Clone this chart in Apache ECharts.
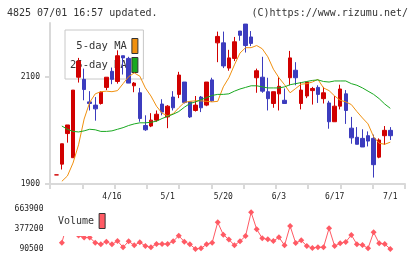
<!DOCTYPE html>
<html>
<head>
<meta charset="utf-8">
<script src="https://cdn.jsdelivr.net/npm/echarts@6/dist/echarts.min.js"></script>
<style>
html, body { margin: 0; padding: 0; background: #fff; }
#chartBox { width: 420px; height: 259px; }
</style>
</head>
<body>
<div id="chartBox"></div>
<script>
// x labels sit on trading-day index
const tickIdx = [10, 20, 30, 40, 50, 60];
const tickLabels = ["4/16", "5/1", "5/20", "6/3", "6/17", "7/1"];
const priceTicks = [1900, 2100];
const volTicks = [90500, 377200, 663900];

const opens  = [1917,1937,1994,1949,2099,2095,2053,2047,2050,2080,2110,2091,2139,2134,2083,2070,2009,2008,2019,2049,2025,2062,2067,2090,2053,2037,2062,2047,2094,2163,2163,2116,2134,2185,2198,2174,2098,2099,2072,2050,2068,2056,2098,2112,2050,2064,2074,2080,2059,2051,2016,2045,2068,2004,1987,1985,1990,1985,1950,1990,2000];
const closes = [1917,1975,2010,2075,2129,2076,2050,2040,2071,2099,2095,2139,2135,2088,2088,2022,2001,2019,2030,2034,2045,2042,2103,2052,2025,2047,2042,2090,2055,2175,2120,2135,2165,2177,2158,2162,2111,2073,2059,2072,2082,2050,2135,2098,2075,2090,2078,2067,2070,2016,2045,2077,2037,1986,1974,1969,1980,1936,1982,2000,1990];
const lows   = [1917,1927,1977,1949,2089,2056,2037,2018,2048,2075,2086,2087,2104,2088,2071,2016,1999,2006,2016,2028,2004,2037,2060,2050,2023,2035,2034,2045,2053,2127,2116,2111,2129,2167,2145,2157,2070,2070,2037,2042,2037,2050,2084,2084,2039,2060,2048,2051,2050,2003,2016,2039,2012,1975,1974,1969,1970,1912,1948,1973,1982];
const highs  = [1917,1975,2010,2075,2135,2115,2073,2062,2073,2099,2117,2149,2139,2137,2090,2079,2028,2032,2037,2058,2047,2073,2109,2090,2053,2064,2064,2090,2098,2184,2184,2150,2174,2185,2198,2185,2115,2137,2098,2072,2099,2078,2148,2127,2090,2090,2081,2084,2081,2055,2064,2085,2075,2025,2006,2002,1998,1992,1985,2008,2006];

const ma5  = [null,1905,1915,1939,1973,2021,2052,2068,2072,2073,2072,2074,2087,2100,2107,2101,2079,2064,2045,2032,2027,2031,2042,2052,2054,2055,2055,2054,2053,2054,2081,2098,2122,2144,2154,2154,2158,2152,2137,2114,2098,2085,2070,2078,2086,2087,2090,2095,2079,2074,2064,2056,2053,2048,2035,2023,2012,1988,1976,1974,1978];
const ma25 = [null,2008,2002,1998,1997,1999,2002,2001,1998,1998,1999,2002,2005,2009,2012,2014,2014,2015,2017,2022,2026,2030,2035,2043,2050,2053,2057,2061,2065,2067,2067,2068,2073,2077,2080,2083,2083,2081,2079,2079,2079,2081,2085,2087,2089,2091,2093,2094,2091,2090,2092,2092,2092,2087,2084,2079,2073,2067,2059,2049,2041];
const volume = [null,181000,463000,520000,284000,255000,255000,181000,158000,195000,158000,205000,115000,201000,143500,186500,133500,115000,162000,162000,162000,201000,281000,195000,158000,90500,100500,158000,181000,473000,295500,226700,143500,201000,277000,616600,373000,244000,229500,205000,258000,143500,420000,176500,215000,133500,105000,115000,115000,387000,133500,172000,191000,291000,158000,148000,100500,330000,172000,162000,90500];

const mono = "DejaVu Sans Mono";
const axisGray = "#d9d9d9";
const xMin = -1.13, xMax = 62.64;

const candleData = opens.map((o, i) => [i, o, closes[i], lows[i], highs[i]]);
const pairs = arr => arr.map((v, i) => [i, v]).filter(p => p[1] !== null);

const chartFun = () => {
  const myChart = echarts.init(document.getElementById("chartBox"));
  const option = {
    animation: false,
    title: [
      {
        text: "4825 07/01 16:57 updated.",
        left: 7, top: 8, padding: 0,
        textStyle: { fontFamily: mono, fontSize: 10, fontWeight: "normal", color: "#333" },
      },
      {
        text: "(C)https://www.rizumu.net/",
        right: 12, top: 8, padding: 0,
        textStyle: { fontFamily: mono, fontSize: 10, fontWeight: "normal", color: "#333" },
      },
    ],
    legend: [
      {
        data: ["5-day MA", "25-day MA"],
        orient: "vertical",
        left: 65, top: 30, z: 1,
        icon: "rect", itemWidth: 6, itemHeight: 15, itemGap: 3,
        align: "right",
        selectedMode: false,
        backgroundColor: "#fff",
        borderColor: "#c8c8c8", borderWidth: 1,
        padding: [8, 5, 6, 5],
        formatter: name => name.padStart(9),
        itemStyle: { borderColor: "#333", borderWidth: 1 },
        textStyle: { fontFamily: mono, fontSize: 10.5, color: "#333" },
      },
      {
        data: ["Volume"],
        left: 52, top: 204, z: 10,
        icon: "rect", itemWidth: 6, itemHeight: 15,
        align: "right",
        selectedMode: false,
        backgroundColor: "#fff",
        borderWidth: 0,
        padding: [9, 6, 7, 6],
        itemStyle: { borderColor: "#333", borderWidth: 1 },
        textStyle: { fontFamily: mono, fontSize: 10, color: "#333" },
      },
    ],
    grid: [
      { left: 50, right: 15, top: 23, bottom: 75 },
      { left: 50, right: 15, top: 209, bottom: 10 },
    ],
    xAxis: [
      {
        gridIndex: 0, type: "value", position: "bottom",
        min: 0, max: 11, interval: 1,
        axisLine: { lineStyle: { color: axisGray, width: 2 } },
        axisTick: { length: 5, lineStyle: { color: axisGray, width: 2 } },
        axisLabel: { show: false },
        splitLine: { show: false },
      },
      {
        gridIndex: 0, type: "value", position: "bottom",
        min: xMin, max: xMax,
        axisLine: { show: false },
        axisTick: { show: false },
        splitLine: { show: false },
        axisLabel: {
          customValues: tickIdx,
          formatter: v => tickLabels[tickIdx.indexOf(v)] || "",
          margin: 9,
          fontFamily: mono, fontSize: 8, color: "#222",
        },
      },
      {
        gridIndex: 1, type: "value",
        min: xMin, max: xMax,
        show: false,
        splitLine: { show: false },
      },
    ],
    yAxis: [
      {
        gridIndex: 0, type: "value",
        min: 1900, max: 2200,
        axisLine: { show: true, lineStyle: { color: axisGray, width: 2 } },
        axisTick: { show: true, customValues: priceTicks, length: 5, lineStyle: { color: axisGray, width: 2 } },
        axisLabel: {
          customValues: priceTicks, margin: 10,
          formatter: v => String(v),
          fontFamily: mono, fontSize: 8, color: "#222",
        },
        splitLine: { show: false },
      },
      {
        gridIndex: 1, type: "value",
        min: 90500, max: 663900,
        axisLine: { show: false },
        axisTick: { show: false },
        axisLabel: {
          customValues: volTicks, margin: 6.5,
          formatter: v => String(v),
          fontFamily: mono, fontSize: 8, color: "#222",
        },
        splitLine: { show: false },
      },
    ],
    series: [
      {
        type: "candlestick",
        xAxisIndex: 1, yAxisIndex: 0,
        encode: { x: 0, y: [1, 2, 3, 4] },
        barWidth: 4,
        z: 3,
        itemStyle: {
          color: "#d10000", borderColor: "#d10000",
          color0: "#3c3cbe", borderColor0: "#3c3cbe",
          borderWidth: 1,
        },
        data: candleData,
      },
      {
        name: "5-day MA",
        type: "line",
        xAxisIndex: 1, yAxisIndex: 0,
        symbol: "none", z: 4,
        color: "#f0900f",
        lineStyle: { width: 1, color: "#f0900f" },
        data: pairs(ma5),
      },
      {
        name: "25-day MA",
        type: "line",
        xAxisIndex: 1, yAxisIndex: 0,
        symbol: "none", z: 4,
        color: "#18a81f",
        lineStyle: { width: 1, color: "#18a81f" },
        data: pairs(ma25),
      },
      {
        name: "Volume",
        type: "line",
        xAxisIndex: 2, yAxisIndex: 1,
        symbol: "diamond", symbolSize: 6,
        color: "#ff5a64",
        lineStyle: { width: 1, color: "#ff5a64" },
        itemStyle: { color: "#ff5a64" },
        data: pairs(volume),
      },
    ],
  };
  myChart.setOption(option);
};

chartFun();
</script>
</body>
</html>
